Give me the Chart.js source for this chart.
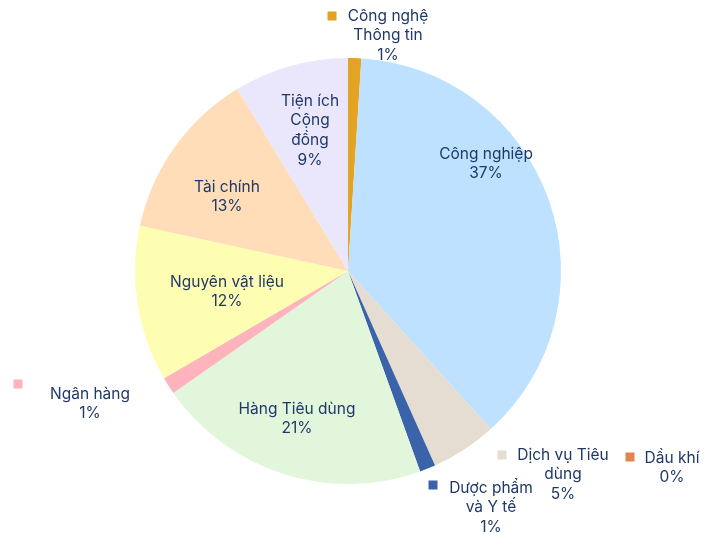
<!DOCTYPE html>
<html>
<head>
<meta charset="utf-8">
<script src="https://cdn.jsdelivr.net/npm/chart.js@4"></script>
<style>
  html, body { margin: 0; padding: 0; background: #ffffff; }
  #wrap { position: relative; width: 720px; height: 533px; }
</style>
</head>
<body>
<div id="wrap"><canvas id="sectorChart"></canvas></div>
<script>
// Dữ liệu theo ngành
const sectors = ['Công nghệ Thông tin', 'Công nghiệp', 'Dịch vụ Tiêu dùng', 'Dầu khí', 'Dược phẩm và Y tế',
                 'Hàng Tiêu dùng', 'Ngân hàng', 'Nguyên vật liệu', 'Tài chính', 'Tiện ích Cộng đồng'];
const weights = [1.0, 37.3, 5.0, 0.0, 1.2, 20.8, 1.3, 11.8, 12.9, 8.7];
const sliceColors = ['#E3A323', '#BDE1FF', '#E5DDD1', '#E2844E', '#3A63AA',
                     '#E2F6DC', '#FFB4BD', '#FEFEB3', '#FFDDB9', '#EAE6FC'];

// Nhãn: dòng chữ, vị trí (tâm khối chữ), có ô màu hay không
const labelLines = [
    ['Công nghệ', 'Thông tin'],
    ['Công nghiệp'],
    ['Dịch vụ Tiêu', 'dùng'],
    ['Dầu khí'],
    ['Dược phẩm', 'và Y tế'],
    ['Hàng Tiêu dùng'],
    ['Ngân hàng'],
    ['Nguyên vật liệu'],
    ['Tài chính'],
    ['Tiện ích', 'Cộng', 'đồng']
];
const labelPos = [
    { x: 388, y: 16, box: [332, 16] },
    { x: 486, y: 154 },
    { x: 563, y: 455, box: [502, 455] },
    { x: 672, y: 458, box: [630, 457] },
    { x: 491, y: 488, box: [433, 485] },
    { x: 297, y: 409 },
    { x: 90, y: 394, box: [18, 384] },
    { x: 227, y: 282 },
    { x: 227, y: 187 },
    { x: 310, y: 101 }
];

const labelPlugin = {
    id: 'sliceLabels',
    afterDraw(chart) {
        const ctx = chart.ctx;
        const total = weights.reduce((a, b) => a + b, 0);
        ctx.save();
        ctx.font = '15.5px Inter, "Noto Sans", sans-serif';
        ctx.fillStyle = '#1F3868';
        ctx.textAlign = 'center';
        ctx.textBaseline = 'middle';
        weights.forEach((v, i) => {
            const p = labelPos[i];
            const lines = labelLines[i].concat([Math.round(v / total * 100) + '%']);
            lines.forEach((t, k) => ctx.fillText(t, p.x, p.y + k * 19.8));
            if (p.box) {
                ctx.fillStyle = sliceColors[i];
                ctx.fillRect(p.box[0] - 4.5, p.box[1] - 4.5, 9, 9);
                ctx.fillStyle = '#1F3868';
            }
        });
        ctx.restore();
    }
};

const ctx = document.getElementById('sectorChart').getContext('2d');
new Chart(ctx, {
    type: 'pie',
    data: {
        labels: sectors,
        datasets: [{
            data: weights,
            backgroundColor: sliceColors,
            borderWidth: 0
        }]
    },
    options: {
        responsive: true,
        maintainAspectRatio: false,
        animation: false,
        layout: { padding: { left: 135, right: 159, top: 58, bottom: 49 } },
        plugins: {
            legend: { display: false },
            tooltip: { enabled: false }
        }
    },
    plugins: [labelPlugin]
});
</script>
</body>
</html>
